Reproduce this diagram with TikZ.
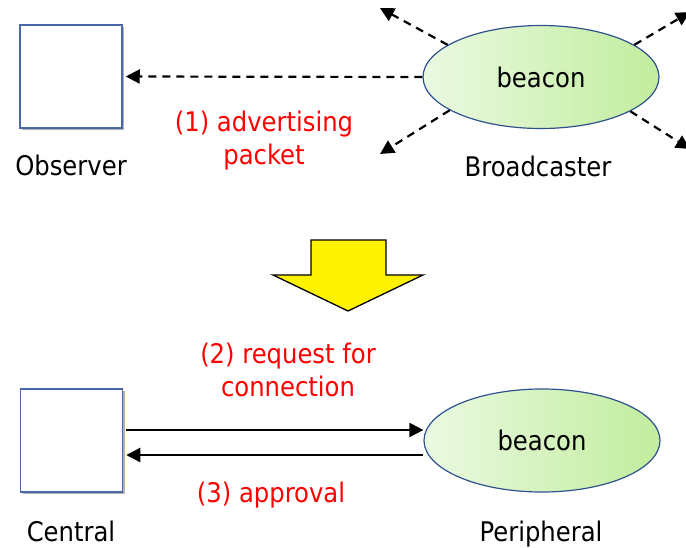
\documentclass[tikz,border=0pt]{standalone}
\usepackage{fontspec}
\setmainfont{DejaVu Sans Condensed}
\usetikzlibrary{arrows.meta,shadows,shapes.geometric}
\definecolor{boxblue}{RGB}{72,104,168}
\definecolor{ellblue}{RGB}{47,82,143}
\definecolor{glight}{RGB}{234,249,225}
\definecolor{gdark}{RGB}{194,237,158}
\begin{document}
\begin{tikzpicture}[x=1pt,y=-1pt,
  every node/.style={font=\fontsize{27}{33}\selectfont},
  devbox/.style={draw=boxblue, line width=1.5pt, fill=white, minimum width=102pt, minimum height=103pt, inner sep=0pt,
    drop shadow={shadow xshift=2pt, shadow yshift=-2pt, opacity=0.3, fill=black}},
  beaconell/.style={ellipse, draw=ellblue, line width=1.2pt, left color=glight, right color=gdark,
    minimum width=236pt, minimum height=103pt, inner sep=0pt},
  rolelabel/.style={anchor=base, inner sep=0pt},
  msglabel/.style={text=red, align=center, anchor=north, inner sep=0pt},
  dasharrow/.style={line width=2.2pt, dash pattern=on 8pt off 6pt, -{Triangle[length=14pt,width=14pt]}},
  solidarrow/.style={line width=2.2pt, -{Triangle[length=14pt,width=14pt]}},
]
\useasboundingbox (0,0) rectangle (686,547);
\clip (0,0) rectangle (686,547);

% top part
\node[devbox] (obs) at (71,76.5) {};
\node[beaconell] (bc) at (541,77) {beacon};
\node[rolelabel] (obslbl) at (71,175) {Observer};
\node[rolelabel] (bclbl) at (538,176) {Broadcaster};
\node[msglabel] (m1) at (264,110.5) {(1) advertising\\packet};

\coordinate (ul) at (380,8);
\coordinate (ll) at (380,154);
\coordinate (ur) at (690,12);
\coordinate (lr) at (690,149);

\draw[dasharrow] (bc.west) -- ([xshift=3pt]obs.east);
\draw[dasharrow] (bc.161) -- (ul);
\draw[dasharrow] (bc.200) -- (ll);
\draw[dasharrow] (bc.19) -- (ur);
\draw[dasharrow] (bc.-21) -- (lr);

% big yellow arrow
\draw[fill=yellow, line width=1.3pt, line join=miter]
  (311,240) -- (386,240) -- (386,275) -- (423,275) -- (348,311) -- (273,275) -- (311,275) -- cycle;

% bottom part
\node[devbox] (cen) at (71.5,440.5) {};
\node[beaconell] (per) at (542,440.5) {beacon};
\node[rolelabel] (cenlbl) at (71,541.5) {Central};
\node[rolelabel] (perlbl) at (541,541.5) {Peripheral};
\node[msglabel] (m2) at (288,342.5) {(2) request for\\connection};
\node[text=red, inner sep=0pt, anchor=base] (m3) at (271,502) {(3) approval};

\draw[solidarrow] ([yshift=10.5pt,xshift=3pt]cen.east) -- ([yshift=10.5pt]per.west);
\draw[solidarrow] ([yshift=-14.5pt]per.west) -- ([yshift=-14.5pt,xshift=3pt]cen.east);
\end{tikzpicture}
\end{document}
